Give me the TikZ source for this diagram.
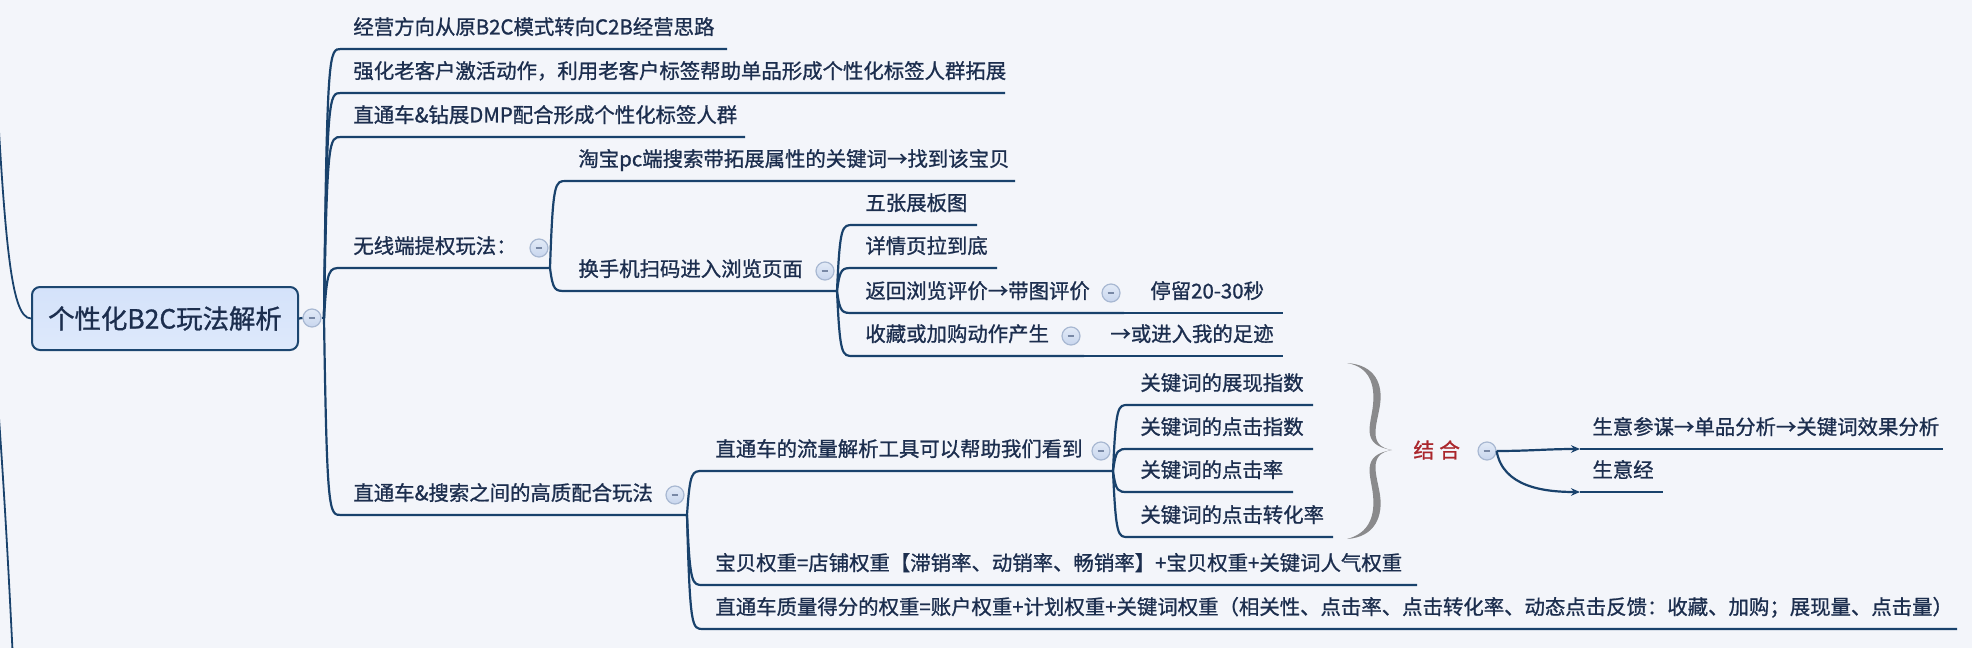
\documentclass[tikz,border=0pt]{standalone}
\usepackage{fontspec}
\setmainfont{Noto Sans CJK SC}[FakeBold=1.0]
\usetikzlibrary{calc,arrows.meta}
\definecolor{bg}{RGB}{243,245,250}
\definecolor{ln}{RGB}{25,66,108}
\definecolor{txt}{RGB}{28,46,78}
\definecolor{roottop}{RGB}{212,226,250}
\definecolor{rootbot}{RGB}{222,233,251}
\definecolor{rootdraw}{RGB}{28,70,112}
\definecolor{mktop}{RGB}{226,234,247}
\definecolor{mkbot}{RGB}{200,214,238}
\definecolor{mkdraw}{RGB}{168,184,210}
\definecolor{mkminus}{RGB}{120,136,165}
\definecolor{bracecol}{RGB}{138,138,140}
\definecolor{jhcol}{RGB}{170,38,44}
\begin{document}
\begin{tikzpicture}[x=0.5pt,y=-0.5pt,
  conn/.style={draw=ln, line width=1.1pt},
  branch/.style={to path={.. controls ($(\tikztostart|-\tikztotarget)+(3,0)$) and ($(\tikztostart|-\tikztotarget)+(5,0)$) .. (\tikztotarget)}},
  topic/.style={anchor=south west, inner xsep=6pt, inner ysep=0pt, text=txt,
    font=\fontsize{10.2pt}{12pt}\selectfont, text height=8.6pt, text depth=7.1pt},
  marker/.style={circle, minimum size=9pt, inner sep=0pt, draw=mkdraw, line width=0.6pt,
    top color=mktop, bottom color=mkbot,
    path picture={\draw[mkminus, line width=0.7pt] ($(path picture bounding box.center)+(-1.7pt,0pt)$) -- ($(path picture bounding box.center)+(1.7pt,0pt)$);}},
  rootbox/.style={rectangle, rounded corners=4pt, draw=rootdraw, line width=1pt,
    top color=roottop, bottom color=rootbot, minimum width=133pt, minimum height=31.5pt,
    text=txt, font=\fontsize{13.2pt}{15pt}\selectfont, inner sep=0pt},
  tip/.style={-{Stealth[length=4.5pt,width=3.8pt]}}
]
\fill[bg] (0,0) rectangle (1972,648);
\useasboundingbox (0,0) rectangle (1972,648);

% root
\node[rootbox] (root) at (165,318.5) {个性化B2C玩法解析};
\node[marker] (rootM) at (312,318) {};
\coordinate (rootF) at (324,318);
\coordinate (up) at (-8,0);
\coordinate (dn) at (-3,390);
\coordinate (dnEnd) at (13,660);

% level 1
\node[topic] (t1) at (341,49) {经营方向从原B2C模式转向C2B经营思路};
\node[topic] (t2) at (341,93) {强化老客户激活动作，利用老客户标签帮助单品形成个性化标签人群拓展};
\node[topic] (t3) at (341,137) {直通车\&钻展DMP配合形成个性化标签人群};
\node[topic] (t4) at (341,268) {无线端提权玩法：};
\node[marker] (t4M) at (539,248) {};
\coordinate (t4F) at (550,268);
\node[topic] (t5) at (341,515) {直通车\&搜索之间的高质配合玩法};
\node[marker] (t5M) at (675,495) {};
\coordinate (t5F) at (687,515);

% under t4
\node[topic] (a1) at (566,181) {淘宝pc端搜索带拓展属性的关键词→找到该宝贝};
\node[topic] (a2) at (566,291) {换手机扫码进入浏览页面};
\node[marker] (a2M) at (825,271) {};
\coordinate (a2F) at (837,291);

\node[topic] (b1) at (853,225) {五张展板图};
\node[topic] (b2) at (853,268) {详情页拉到底};
\node[topic] (b3) at (853,313) {返回浏览评价→带图评价};
\node[marker] (b3M) at (1111,293) {};
\coordinate (b3F) at (1124,313);
\node[topic] (b4) at (853,356) {收藏或加购动作产生};
\node[marker] (b4M) at (1071,336) {};
\coordinate (b4F) at (1084,356);
\node[topic] (c1) at (1138,313) {停留20-30秒};
\node[topic] (c2) at (1098,356) {→或进入我的足迹};

% under t5
\node[topic] (d1) at (703,471) {直通车的流量解析工具可以帮助我们看到};
\node[marker] (d1M) at (1101,451) {};
\coordinate (d1F) at (1113,471);
\node[topic] (d2) at (703,585) {宝贝权重=店铺权重【滞销率、动销率、畅销率】+宝贝权重+关键词人气权重};
\node[topic] (d3) at (703,629) {直通车质量得分的权重=账户权重+计划权重+关键词权重（相关性、点击率、点击转化率、动态点击反馈：收藏、加购；展现量、点击量）};

\node[topic] (e1) at (1128,405) {关键词的展现指数};
\node[topic] (e2) at (1128,449) {关键词的点击指数};
\node[topic] (e3) at (1128,492) {关键词的点击率};
\node[topic] (e4) at (1128,537) {关键词的点击转化率};

% brace
\fill[bracecol] (1347,363) .. controls (1376,365) and (1383,385) .. (1380,405)
  .. controls (1377,425) and (1367,446) .. (1392,450)
  .. controls (1367,454) and (1377,475) .. (1380,495)
  .. controls (1383,515) and (1376,537) .. (1347,539)
  .. controls (1370,533) and (1375,515) .. (1373,495)
  .. controls (1371,475) and (1360,455) .. (1392,450)
  .. controls (1360,445) and (1371,425) .. (1373,405)
  .. controls (1375,385) and (1370,367) .. (1347,363) -- cycle;

\node[anchor=west, inner sep=0pt, text=jhcol, font=\fontsize{10.4pt}{12pt}\selectfont] (jh) at (1413,450) {结\hspace{2.5pt}合};
\node[marker] (jhM) at (1487,451) {};
\node[topic] (f1) at (1580,449) {生意参谋→单品分析→关键词效果分析};
\node[topic] (f2) at (1580,492) {生意经};

% connectors
\draw[conn, line width=0.9pt] (up) .. controls (4,240) and (10,318) .. (root.west);
\draw[conn, line width=0.9pt] (dn) .. controls (5,500) and (9,580) .. (dnEnd);
\draw[conn] (root.east) -- (rootM.west);
\draw[conn] (rootM.east) -- (rootF);
\draw[conn] (rootF) to[branch] (t1.south west) -- ++(386,0);
\draw[conn] (rootF) to[branch] (t2.south west) -- ++(664,0);
\draw[conn] (rootF) to[branch] (t3.south west) -- ++(404,0);
\draw[conn] (rootF) to[branch] (t4.south west) -- (t4F);
\draw[conn] (rootF) to[branch] (t5.south west) -- (t5F);

\draw[conn] (t4F) to[branch] (a1.south west) -- ++(449,0);
\draw[conn] (t4F) to[branch] (a2.south west) -- (a2F);

\draw[conn] (a2F) to[branch] (b1.south west) -- ++(124,0);
\draw[conn] (a2F) to[branch] (b2.south west) -- ++(144,0);
\draw[conn] (a2F) to[branch] (b3.south west) -- (b3F);
\draw[conn] (a2F) to[branch] (b4.south west) -- (b4F);
\draw[conn] (b3F) -- (c1.south west) -- ++(145,0);
\draw[conn] (b4F) to[branch] (c2.south west) -- ++(185,0);

\draw[conn] (t5F) to[branch] (d1.south west) -- (d1F);
\draw[conn] (t5F) to[branch] (d2.south west) -- ++(714,0);
\draw[conn] (t5F) to[branch] (d3.south west) -- ++(1254,0);

\draw[conn] (d1F) to[branch] (e1.south west) -- ++(185,0);
\draw[conn] (d1F) to[branch] (e2.south west) -- ++(185,0);
\draw[conn] (d1F) to[branch] (e3.south west) -- ++(165,0);
\draw[conn] (d1F) to[branch] (e4.south west) -- ++(205,0);

\draw[conn, tip] (jhM.east) to[out=0,in=180] (f1.south west);
\draw[conn, tip] (jhM.east) to[out=-80,in=180] (f2.south west);
\draw[conn] (f1.south west) -- ++(363,0);
\draw[conn] (f2.south west) -- ++(83,0);
\end{tikzpicture}
\end{document}
